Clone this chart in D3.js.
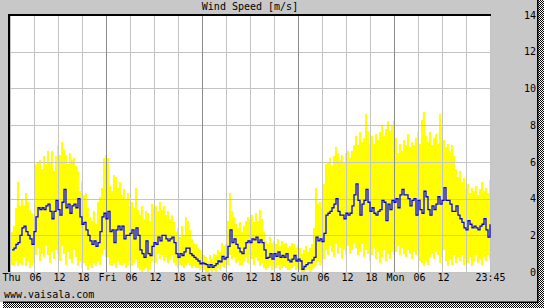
<!DOCTYPE html>
<html lang="en">
<head>
  <meta charset="UTF-8">
  <title>Wind Speed [m/s]</title>
  <style>
    body { margin: 0; background: #fff; }
    svg { display: block; }
    text { font-family: "DejaVu Sans Mono", "Liberation Mono", monospace; font-size: 10px; fill: #000; }
  </style>
</head>
<body>
  <div id="chart"></div>
  <script src="https://d3js.org/d3.v7.min.js"></script>
  <script>
    const width = 544
    const height = 308

    // tick labels, one every 6 hours starting Thu 00:00
    const tickLabels = ['Thu', '06', '12', '18', 'Fri', '06', '12', '18', 'Sat', '06', '12', '18',
      'Sun', '06', '12', '18', 'Mon', '06', '12']
    const lastLabel = '23:45'
    const yTicks = [0, 2, 4, 6, 8, 10, 12, 14]

    // half-hourly values, one line per day (Thu .. Mon)
    const avgSpeed = [
      1.2, 1.3, 1.5, 1.6, 2.0, 2.4, 2.5, 2.2, 2.0, 1.8, 1.5, 2.2, 3.0, 3.5, 3.4, 3.5, 3.4, 3.6, 3.7, 3.3, 2.9, 3.3, 3.9, 3.4, 3.1, 3.8, 4.5, 3.5, 3.7, 3.2, 3.6, 3.7, 3.5, 4.0, 3.0, 2.6, 2.7, 2.3, 2.0, 1.7, 1.5, 1.7, 1.4, 1.6, 2.2, 3.0, 3.2, 2.9,
      3.3, 2.2, 2.3, 1.6, 2.3, 2.5, 2.3, 2.5, 1.8, 2.0, 2.0, 2.1, 2.3, 1.8, 2.4, 2.0, 1.2, 1.0, 0.8, 1.7, 1.0, 0.9, 1.4, 1.6, 1.5, 1.9, 1.7, 2.0, 2.0, 1.8, 1.7, 1.8, 1.9, 1.6, 1.0, 0.8, 1.0, 0.9, 1.1, 1.3, 1.3, 1.0, 0.9, 0.8, 0.7, 0.6, 0.45, 0.5,
      0.45, 0.4, 0.25, 0.4, 0.25, 0.35, 0.45, 0.6, 0.55, 0.85, 0.7, 0.8, 1.4, 2.3, 1.6, 1.8, 1.5, 1.3, 1.1, 1.0, 1.3, 1.6, 1.7, 1.6, 1.8, 1.75, 1.9, 1.6, 1.75, 1.6, 1.2, 0.75, 0.8, 1.0, 0.7, 1.0, 0.85, 1.1, 0.8, 0.9, 0.8, 1.0, 0.65, 0.55, 0.7, 0.9, 0.6, 0.7,
      0.6, 0.15, 0.3, 0.4, 0.5, 0.5, 0.65, 0.8, 1.9, 1.7, 1.8, 1.65, 2.1, 3.1, 3.2, 3.3, 3.5, 3.7, 4.0, 3.3, 3.1, 3.1, 2.9, 3.2, 3.1, 3.2, 3.6, 4.2, 4.8, 3.9, 3.1, 3.7, 3.9, 4.5, 3.8, 3.3, 3.5, 3.2, 3.1, 3.3, 3.4, 3.9, 3.8, 2.8, 3.7, 3.4, 3.9, 3.8,
      4.0, 3.5, 4.2, 4.5, 4.2, 4.2, 4.0, 3.6, 3.9, 4.0, 3.1, 3.9, 3.4, 3.2, 4.4, 4.1, 3.4, 3.1, 3.6, 3.4, 3.7, 4.1, 3.7, 3.9, 4.6, 3.9, 3.9, 3.7, 3.3, 3.3, 3.6, 3.1, 2.9, 2.7, 2.4, 2.3, 2.8, 2.6, 2.4, 2.5, 2.4, 2.3, 2.5, 2.6, 2.9, 2.3, 1.9, 2.6
    ]
    const maxGust = [
      2.2, 2.5, 3.5, 4.9, 3.6, 4.0, 3.6, 4.3, 3.8, 3.4, 3.2, 3.0, 5.9, 6.0, 6.1, 5.6, 6.3, 5.9, 6.6, 6.0, 6.6, 5.5, 6.3, 6.9, 6.4, 7.1, 6.7, 6.4, 5.9, 6.5, 6.1, 6.2, 5.8, 5.5, 4.4, 4.9, 4.2, 4.3, 3.5, 3.0, 2.8, 3.3, 2.6, 3.8, 4.1, 4.6, 6.2, 6.4,
      6.2, 4.7, 4.4, 5.3, 5.2, 4.6, 4.9, 4.2, 4.5, 3.9, 4.3, 3.6, 3.8, 3.5, 4.6, 3.4, 3.1, 3.6, 2.9, 3.3, 3.2, 2.8, 3.7, 3.5, 3.6, 3.3, 3.8, 3.4, 3.6, 3.1, 3.3, 2.9, 3.1, 2.7, 2.2, 2.4, 1.9, 2.5, 2.0, 3.0, 2.8, 2.3, 1.8, 1.6, 1.5, 1.3, 1.2, 1.0,
      0.9, 0.8, 0.6, 0.9, 0.7, 1.0, 0.9, 1.2, 1.1, 1.6, 1.4, 1.5, 2.8, 4.3, 3.3, 3.0, 2.6, 2.4, 2.7, 2.2, 2.5, 2.8, 3.0, 2.9, 3.1, 2.7, 3.2, 2.8, 3.4, 2.9, 2.2, 1.7, 1.5, 1.9, 1.6, 1.7, 1.5, 1.8, 1.4, 1.7, 1.5, 1.6, 1.3, 1.4, 1.6, 1.5, 1.3, 1.4,
      1.3, 1.0, 1.2, 1.4, 1.1, 1.3, 1.5, 2.4, 4.6, 3.7, 3.8, 3.5, 4.8, 5.9, 6.0, 6.2, 5.8, 6.3, 6.8, 6.5, 6.1, 6.4, 6.0, 6.5, 6.6, 6.2, 6.6, 6.9, 7.4, 6.9, 7.6, 7.1, 7.3, 8.6, 7.7, 7.0, 7.4, 7.0, 7.5, 7.2, 7.6, 8.0, 7.4, 7.8, 8.2, 7.7, 8.0, 8.2,
      7.3, 6.5, 7.0, 6.6, 7.2, 6.9, 7.5, 6.8, 7.1, 6.9, 7.3, 7.6, 7.0, 8.3, 8.7, 7.4, 7.1, 7.6, 6.9, 7.3, 7.5, 7.0, 8.6, 7.9, 7.2, 6.8, 7.0, 6.6, 6.9, 6.3, 5.6, 5.2, 5.5, 4.9, 5.1, 4.5, 4.8, 4.3, 4.6, 4.4, 4.7, 4.2, 4.5, 4.9, 4.4, 4.6, 4.3, 5.0
    ]
    const minSpeed = [
      0.4, 0.3, 0.6, 0.3, 0.5, 0.4, 0.8, 0.3, 0.6, 0.2, 0.4, 0.5, 0.9, 1.3, 0.6, 1.0, 0.8, 1.4, 0.9, 0.5, 1.1, 0.7, 1.2, 1.0, 0.6, 1.4, 1.0, 0.4, 1.1, 0.7, 0.5, 1.2, 0.8, 0.3, 0.6, 0.2, 0.5, 0.3, 0.1, 0.4, 0.2, 0.5, 0.3, 0.6, 0.4, 0.9, 1.2, 0.8,
      0.8, 0.4, 0.3, 0.5, 0.2, 0.6, 0.4, 0.3, 0.5, 0.2, 0.4, 0.6, 0.3, 0.5, 0.7, 0.2, 0.1, 0.0, 0.1, 0.2, 0.0, 0.1, 0.6, 0.8, 0.5, 1.0, 0.7, 0.9, 0.6, 0.8, 0.5, 0.7, 0.9, 0.5, 0.3, 0.2, 0.4, 0.3, 0.2, 0.4, 0.5, 0.3, 0.2, 0.3, 0.2, 0.2, 0.1, 0.2,
      0.1, 0.0, 0.0, 0.1, 0.0, 0.1, 0.0, 0.2, 0.1, 0.3, 0.2, 0.2, 0.4, 0.9, 0.7, 0.8, 0.5, 0.6, 0.3, 0.4, 0.6, 0.8, 0.5, 0.9, 0.7, 0.4, 0.8, 0.6, 0.3, 0.5, 0.2, 0.1, 0.2, 0.3, 0.1, 0.3, 0.2, 0.4, 0.1, 0.2, 0.3, 0.2, 0.1, 0.1, 0.2, 0.3, 0.1, 0.2,
      0.1, 0.0, 0.0, 0.1, 0.1, 0.0, 0.1, 0.2, 0.4, 0.6, 0.4, 0.5, 0.7, 1.2, 0.9, 1.4, 1.1, 0.8, 1.5, 1.0, 1.3, 0.7, 1.2, 0.9, 1.4, 1.0, 1.2, 1.6, 1.3, 0.9, 1.1, 1.5, 0.8, 1.2, 1.0, 0.6, 0.9, 1.3, 0.7, 1.1, 0.5, 0.8, 1.2, 0.6, 1.0, 0.7, 1.1, 0.9,
      1.1, 1.4, 0.9, 1.3, 1.0, 0.8, 1.2, 1.0, 0.7, 1.1, 0.9, 1.2, 0.6, 0.5, 0.3, 0.6, 0.4, 0.8, 1.0, 0.7, 1.1, 0.9, 0.5, 0.8, 1.2, 0.6, 0.3, 0.7, 0.4, 0.9, 0.5, 0.8, 0.6, 0.9, 0.4, 0.7, 0.5, 0.8, 0.3, 0.6, 0.9, 0.5, 0.7, 0.4, 0.8, 0.6, 0.9, 0.7
    ]

    const plot = { left: 10, right: 491, top: 16, bottom: 272 }

    const svg = d3.select('#chart').append('svg')
      .attr('width', width)
      .attr('height', height)

    // dither pattern for the drop shadow
    const defs = svg.append('defs')
    const pat = defs.append('pattern')
      .attr('id', 'dither')
      .attr('width', 2).attr('height', 2)
      .attr('patternUnits', 'userSpaceOnUse')
    pat.append('rect').attr('width', 2).attr('height', 2).attr('fill', '#fff')
    pat.append('rect').attr('x', 0).attr('y', 0).attr('width', 1).attr('height', 1).attr('fill', '#000')
    pat.append('rect').attr('x', 1).attr('y', 1).attr('width', 1).attr('height', 1).attr('fill', '#000')

    // frame + shadow
    svg.append('rect').attr('x', 538).attr('y', 0).attr('width', 6).attr('height', height).attr('fill', 'url(#dither)')
    svg.append('rect').attr('x', 3).attr('y', 302).attr('width', width - 3).attr('height', 6).attr('fill', 'url(#dither)')
    svg.append('rect').attr('x', 0).attr('y', 0).attr('width', 538).attr('height', 302).attr('fill', '#c8c8c8')
    svg.append('rect').attr('x', 537).attr('y', 0).attr('width', 1.5).attr('height', 303).attr('fill', '#000')
    svg.append('rect').attr('x', 3).attr('y', 301.5).attr('width', 535).attr('height', 1.5).attr('fill', '#000')

    // plot background
    svg.append('rect')
      .attr('x', plot.left).attr('y', plot.top)
      .attr('width', plot.right - plot.left).attr('height', plot.bottom - plot.top)
      .attr('fill', '#fff')

    // scales: x in hours since Thu 00:00
    const x = d3.scaleLinear().domain([0, 120]).range([11, 491])
    const y = d3.scaleLinear().domain([0, 14]).range([272, 15])

    const times = avgSpeed.map((d, i) => i * 0.5)

    // yellow min..max bars
    svg.append('g')
      .attr('shape-rendering', 'crispEdges')
      .selectAll('rect')
      .data(times)
      .join('rect')
      .attr('x', t => x(t))
      .attr('width', t => x(t + 0.5) - x(t))
      .attr('y', (t, i) => y(maxGust[i]))
      .attr('height', (t, i) => y(minSpeed[i]) - y(maxGust[i]))
      .attr('fill', '#ffff00')

    // grid
    const grid = svg.append('g').attr('shape-rendering', 'crispEdges')
    grid.selectAll('line.h')
      .data(yTicks.filter(v => v > 0 && v < 14))
      .join('line')
      .attr('class', 'h')
      .attr('x1', plot.left).attr('x2', plot.right)
      .attr('y1', v => Math.round(y(v)) + 0.5).attr('y2', v => Math.round(y(v)) + 0.5)
      .attr('stroke', '#c4c4c4')
    grid.selectAll('line.v')
      .data(d3.range(0, 121, 6))
      .join('line')
      .attr('class', 'v')
      .attr('x1', h => Math.round(x(h)) - 0.5).attr('x2', h => Math.round(x(h)) - 0.5)
      .attr('y1', plot.top).attr('y2', plot.bottom)
      .attr('stroke', h => (h % 24 === 0 && h > 0 && h < 120) ? '#8c8c8c' : '#c4c4c4')
    grid.append('line')
      .attr('x1', plot.left).attr('x2', plot.right)
      .attr('y1', 272.5).attr('y2', 272.5)
      .attr('stroke', '#c4c4c4')

    // blue average line
    const line = d3.line()
      .x((d, i) => x(times[i] + 0.25))
      .y(d => y(d))
      .curve(d3.curveStepAfter)
    svg.append('path')
      .datum(avgSpeed)
      .attr('d', line)
      .attr('fill', 'none')
      .attr('stroke', '#0000ff')
      .attr('stroke-width', 1.3)

    // dark top/left border
    svg.append('rect').attr('x', 8).attr('y', 14).attr('width', plot.right - 8).attr('height', 2).attr('fill', '#000')
    svg.append('rect').attr('x', 8).attr('y', 14).attr('width', 2).attr('height', plot.bottom - 14).attr('fill', '#000')

    // x axis
    const xTickVals = tickLabels.map((d, i) => i * 6).concat([119.75])
    const xAxis = d3.axisBottom(x)
      .tickValues(xTickVals)
      .tickSize(0)
      .tickPadding(0)
      .tickFormat((d, i) => i < tickLabels.length ? tickLabels[i] : lastLabel)
    const gx = svg.append('g')
      .attr('transform', 'translate(0, 274)')
      .call(xAxis)
    gx.select('.domain').remove()
    gx.selectAll('text').attr('font-family', null).attr('font-size', null).attr('fill', '#000').attr('dy', '0.71em')

    // y axis on the right
    const yAxis = d3.axisLeft(y)
      .tickValues(yTicks)
      .tickSize(0)
      .tickPadding(0)
    const gy = svg.append('g')
      .attr('transform', 'translate(536, 0)')
      .call(yAxis)
    gy.select('.domain').remove()
    gy.selectAll('text').attr('font-family', null).attr('font-size', null).attr('fill', '#000')

    // title and footer
    svg.append('text')
      .attr('x', 250).attr('y', 10)
      .attr('text-anchor', 'middle')
      .text('Wind Speed [m/s]')
    svg.append('text')
      .attr('x', 4).attr('y', 298)
      .text('www.vaisala.com')
  </script>
</body>
</html>
